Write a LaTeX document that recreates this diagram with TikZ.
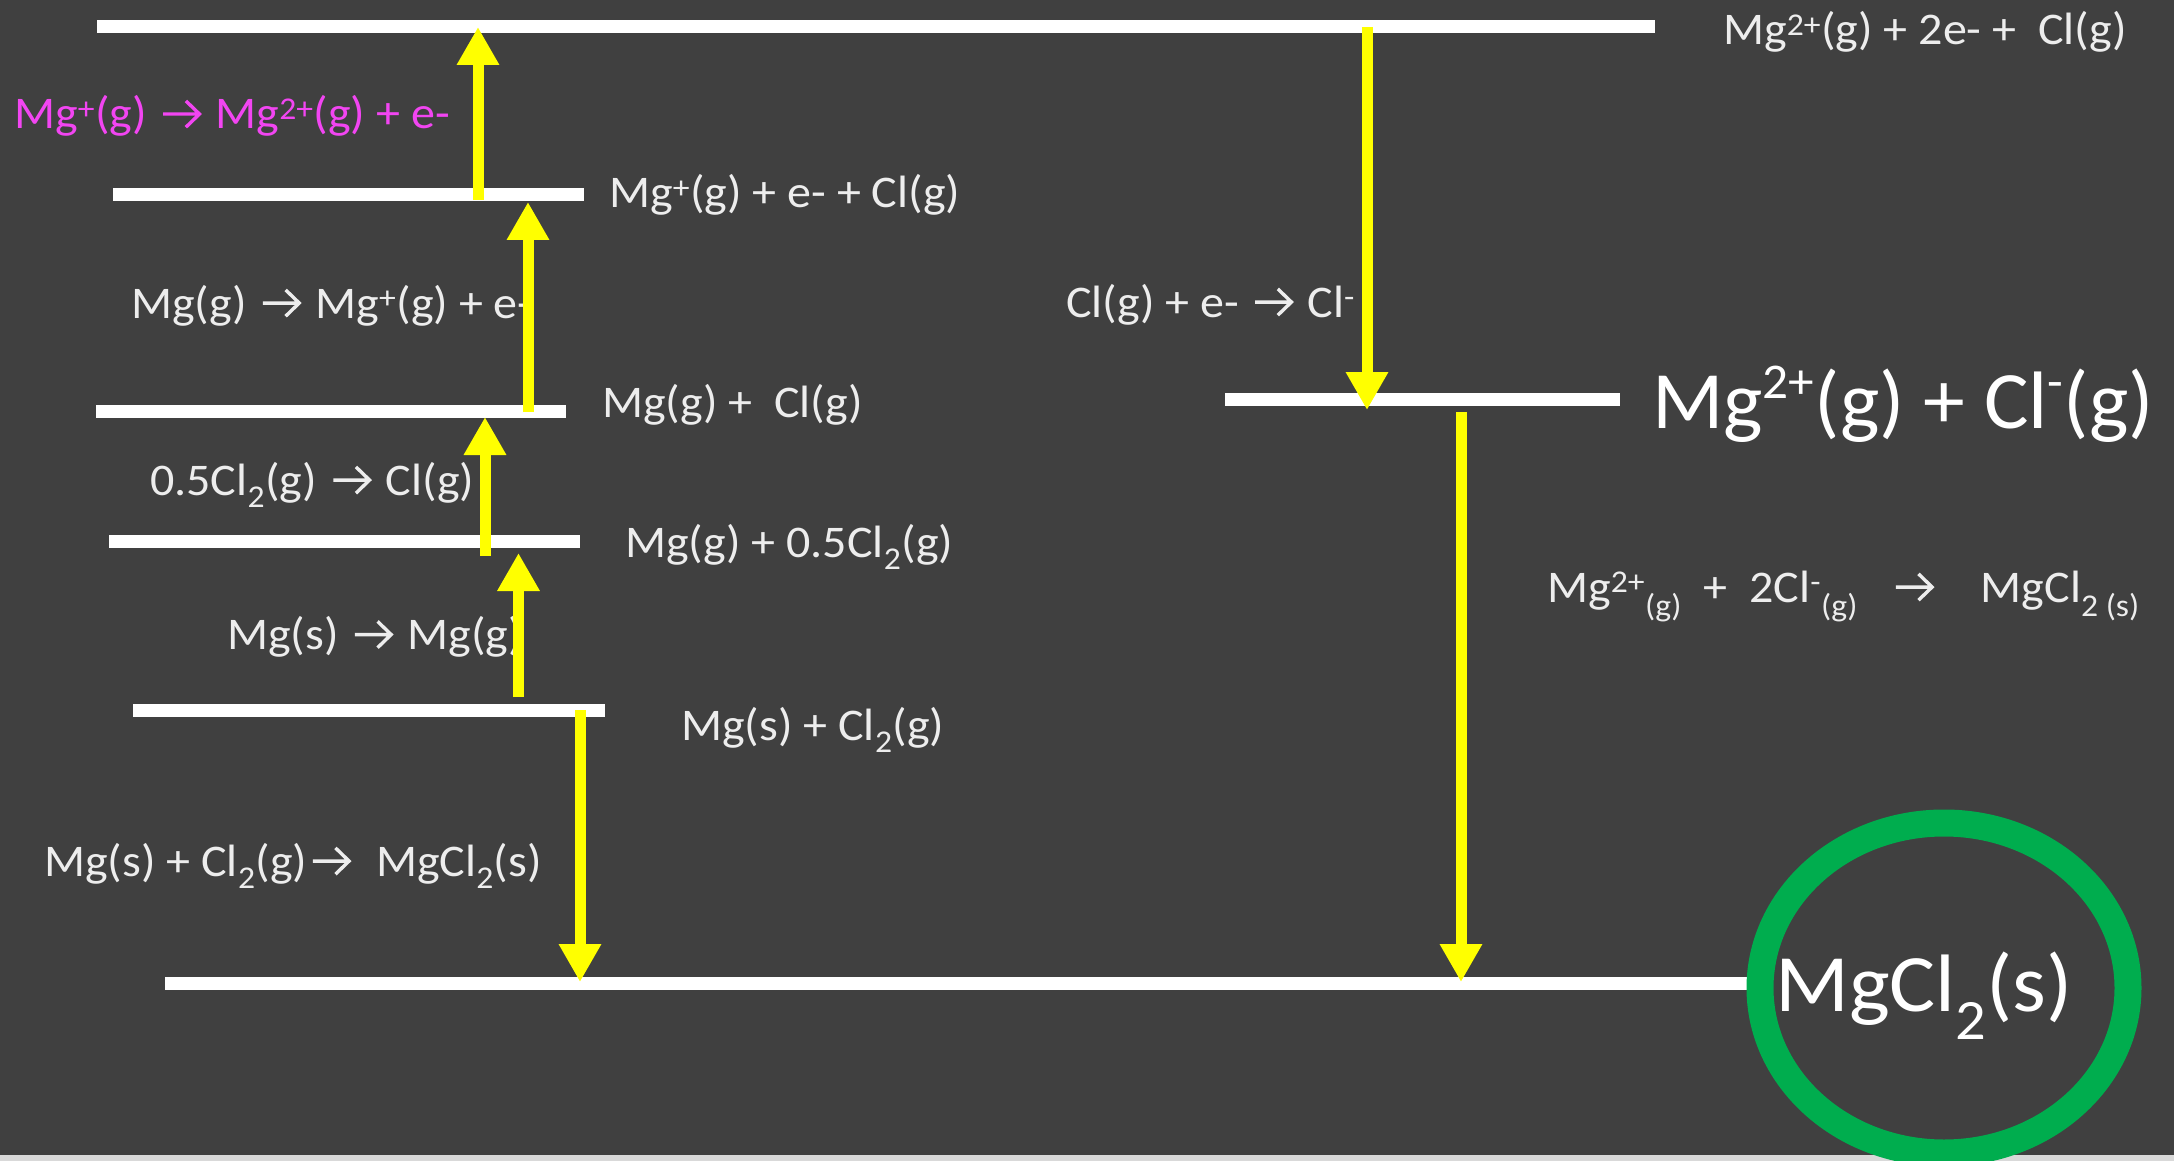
\documentclass[tikz,border=0pt]{standalone}
\usepackage{fontspec}
\setmainfont[FakeStretch=1.06]{Carlito}
\newfontfamily\bigfont[FakeStretch=1.025]{Carlito}
\usetikzlibrary{arrows.meta}
\definecolor{bg}{HTML}{404040}
\definecolor{lblc}{HTML}{EDEDED}
\definecolor{magc}{HTML}{F245F2}
\definecolor{ylw}{HTML}{FFFF00}
\definecolor{grn}{HTML}{00AD4E}
\definecolor{strip}{HTML}{D9D9D9}
\newcommand\ra{\kern0.08em\tikz[baseline=0pt,x=1em,y=1em]{\draw[line width=0.075em,line join=miter,line cap=butt]
  (0,0.33)--(0.79,0.33) (0.5,0.62)--(0.8,0.33)--(0.5,0.04);}\kern0.08em}
\newcommand\sps[1]{\textsuperscript{#1}}
\newcommand\sbs[1]{\textsubscript{#1}}
\newcommand\bigsup[1]{\raisebox{0.36em}{\fontsize{50}{56}\selectfont #1}}
\begin{document}
\begin{tikzpicture}[x=1pt,y=-1pt,
  level/.style={draw=white, line width=13pt},
  yarrow/.style={draw=ylw, line width=11pt, -{Triangle[width=40pt,length=38pt]}},
  lbl/.style={anchor=base west, inner sep=0pt, text=lblc, font=\fontsize{45.3}{54}\selectfont},
  big/.style={anchor=base west, inner sep=0pt, text=white, font=\fontsize{81.5}{98}\selectfont},
  ring/.style={draw=grn, line width=27pt}]
\useasboundingbox (0,0) rectangle (2174,1161);
\clip (0,0) rectangle (2174,1161);
\fill[bg] (0,0) rectangle (2174,1161);
\fill[strip] (0,1155) rectangle (2174,1161);

% level lines
\coordinate (L1a) at (97,27);    \coordinate (L1b) at (1655,27);
\coordinate (L2a) at (113,195);  \coordinate (L2b) at (584,195);
\coordinate (L3a) at (96,411.5); \coordinate (L3b) at (566,411.5);
\coordinate (L4a) at (109,541);  \coordinate (L4b) at (580,541);
\coordinate (L5a) at (133,710);  \coordinate (L5b) at (605,710);
\coordinate (L6a) at (165,983);  \coordinate (L6b) at (1752,983);
\coordinate (L7a) at (1225,399); \coordinate (L7b) at (1620,399);
\foreach \n in {1,...,7} {\draw[level] (L\n a) -- (L\n b);}

% labels
\node[lbl,text=magc] (t1) at (14,129) {Mg\sps{+}(g) \ra\ Mg\sps{2+}(g) + e-};
\node[lbl] (t2) at (609,208) {Mg\sps{+}(g) + e- + Cl(g)};
\node[lbl] (t3) at (131,318) {Mg(g) \ra\ Mg\sps{+}(g) + e-};
\node[lbl] (t4) at (602,417) {Mg(g) +\ \ Cl(g)};
\node[lbl] (t5) at (150,495) {0.5Cl\sbs{2}(g) \ra\ Cl(g)};
\node[lbl] (t6) at (625,557) {Mg(g) + 0.5Cl\sbs{2}(g)};
\node[lbl] (t7) at (227,649.5) {Mg(s) \ra\ Mg(g)};
\node[lbl] (t8) at (681,740) {Mg(s) + Cl\sbs{2}(g)};
\node[lbl] (t9) at (44,876) {Mg(s) + Cl\sbs{2}(g)\ra\ \ MgCl\sbs{2}(s)};
\node[lbl] (t10) at (1723,45) {Mg\sps{2+}(g) + 2e- +\ \ Cl(g)};
\node[lbl] (t11) at (1066,317) {Cl(g) + e- \ra\ Cl\sps{-}};
\node[big,font=\bigfont\fontsize{81.5}{98}\selectfont] (t12) at (1652,428) {Mg\bigsup{2+}(g) + Cl\bigsup{-}(g)};
\node[lbl] (t13) at (1547,602) {Mg\sps{2+}\sbs{(g)}\ \ +\ \ 2Cl\sps{-}\sbs{(g)}\ \ \ \ra\ \ \ \ MgCl\sbs{2 (s)}};

% arrows
\coordinate (a1s) at (478,200);   \coordinate (a1e) at (478,27);
\coordinate (a2s) at (528,412);   \coordinate (a2e) at (528,202);
\coordinate (a3s) at (485,556);   \coordinate (a3e) at (485,417);
\coordinate (a4s) at (518.5,697); \coordinate (a4e) at (518.5,553);
\coordinate (a5s) at (580,710);   \coordinate (a5e) at (580,982);
\coordinate (a6s) at (1367,27);   \coordinate (a6e) at (1367,410);
\coordinate (a7s) at (1461,412);  \coordinate (a7e) at (1461,982);
\foreach \n in {1,...,7} {\draw[yarrow] (a\n s) -- (a\n e);}

% product ring
\node[draw=none, inner sep=0pt] (ringc) at (1944,988) {};
\draw[ring] (ringc) ellipse [x radius=184pt, y radius=165pt];
\node[big] (t14) at (1775,1011.5) {MgCl\sbs{2}(s)};
\end{tikzpicture}
\end{document}
